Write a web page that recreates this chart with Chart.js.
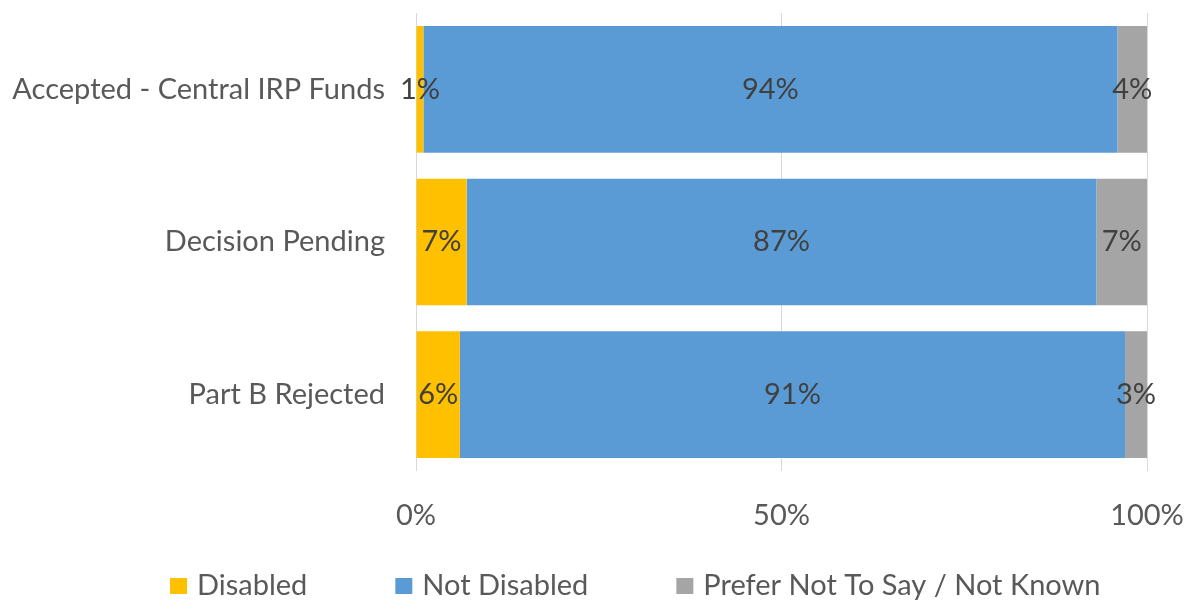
<!DOCTYPE html>
<html>
<head>
<meta charset="utf-8">
<script src="https://cdn.jsdelivr.net/npm/chart.js@4"></script>
<style>
  html, body { margin: 0; padding: 0; background: #fff; }
  #wrap { width: 1193px; height: 604px; position: relative; }
</style>
</head>
<body>
<div id="wrap"><canvas id="chart"></canvas></div>
<script>
// categories and shares (percent, as shown on the bars)
const categories = ['Accepted - Central IRP Funds', 'Decision Pending', 'Part B Rejected'];
const disabled = [1, 7, 6];
const notDisabled = [94, 87, 91];
const preferNot = [4, 7, 3];
const xTicks = [0, 50, 100];

const seriesNames = ['Disabled', 'Not Disabled', 'Prefer Not To Say / Not Known'];
const seriesColors = ['#FFC000', '#5B9BD5', '#A5A5A5'];

const FONT = 'Lato, "Open Sans", sans-serif';
const TEXT = '#595959';
const SIZE = 29;

// each row is a 100% stack, so scale the shown values to their row total
const rowTotals = categories.map((_, i) => disabled[i] + notDisabled[i] + preferNot[i]);
const toShare = arr => arr.map((v, i) => v / rowTotals[i] * 100);

const rawSeries = [disabled, notDisabled, preferNot];

// value labels in the middle of every segment
const segmentLabels = {
    id: 'segmentLabels',
    afterDatasetsDraw(chart) {
        const ctx = chart.ctx;
        ctx.save();
        ctx.font = SIZE + 'px ' + FONT;
        ctx.fillStyle = '#404040';
        ctx.textAlign = 'center';
        ctx.textBaseline = 'middle';
        chart.data.datasets.forEach((ds, di) => {
            chart.getDatasetMeta(di).data.forEach((bar, i) => {
                const cx = (bar.x + bar.base) / 2;
                ctx.fillText(rawSeries[di][i] + '%', cx, bar.y);
            });
        });
        ctx.restore();
    }
};

// legend row under the axis
const bottomLegend = {
    id: 'bottomLegend',
    afterDraw(chart) {
        const ctx = chart.ctx;
        ctx.save();
        ctx.font = SIZE + 'px ' + FONT;
        ctx.textBaseline = 'middle';
        let x = 170;
        const y = 586;
        chart.data.datasets.forEach(ds => {
            ctx.fillStyle = ds.backgroundColor;
            ctx.fillRect(x, y - 8, 17, 16);
            x += 27;
            ctx.fillStyle = TEXT;
            ctx.fillText(ds.label, x, y);
            x += ctx.measureText(ds.label).width + 88;
        });
        ctx.restore();
    }
};

new Chart(document.getElementById('chart'), {
    type: 'bar',
    data: {
        labels: categories,
        datasets: rawSeries.map((arr, i) => ({
            label: seriesNames[i],
            data: toShare(arr),
            backgroundColor: seriesColors[i],
            borderWidth: 0,
            categoryPercentage: 1,
            barPercentage: 0.83
        }))
    },
    options: {
        indexAxis: 'y',
        responsive: true,
        maintainAspectRatio: false,
        animation: false,
        layout: { padding: { top: 13, right: 46, bottom: 71, left: 0 } },
        plugins: {
            legend: { display: false },
            tooltip: { enabled: false }
        },
        scales: {
            x: {
                stacked: true,
                min: 0,
                max: 100,
                afterBuildTicks: scale => { scale.ticks = xTicks.map(v => ({ value: v })); },
                afterFit: scale => {
                    scale.height = 62;
                    scale.paddingLeft = 0;
                    scale.paddingRight = 0;
                },
                ticks: {
                    callback: v => v + '%',
                    color: TEXT,
                    font: { family: FONT, size: SIZE },
                    padding: 27,
                    maxRotation: 0
                },
                grid: { color: '#D9D9D9', drawTicks: false },
                border: { display: false }
            },
            y: {
                stacked: true,
                afterFit: scale => {
                    scale.width = 416;
                    scale.paddingTop = 0;
                    scale.paddingBottom = 0;
                },
                ticks: {
                    color: TEXT,
                    font: { family: FONT, size: SIZE },
                    padding: 31
                },
                grid: { display: false, drawTicks: false },
                border: { display: false }
            }
        }
    },
    plugins: [segmentLabels, bottomLegend]
});
</script>
</body>
</html>
